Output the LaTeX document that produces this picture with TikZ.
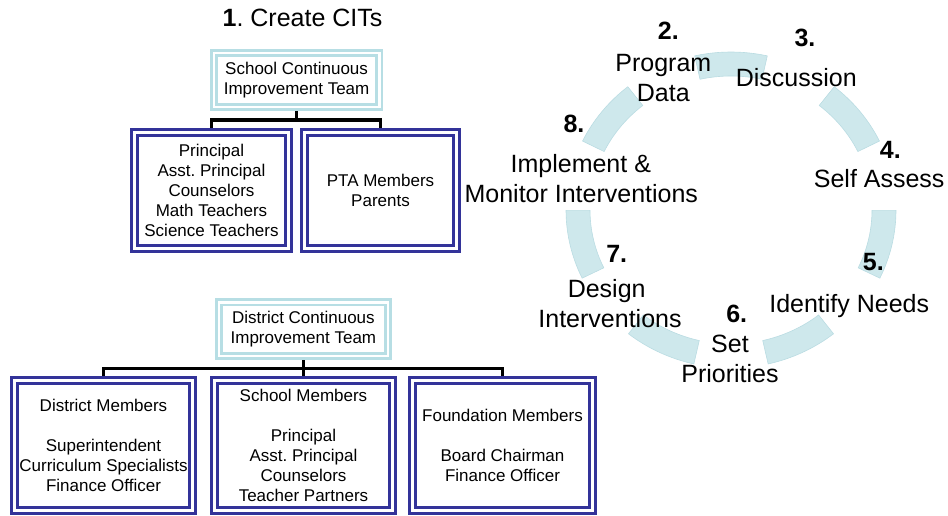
\documentclass[tikz,border=0pt]{standalone}
\usepackage{fontspec}
\setmainfont{Liberation Sans}
\frenchspacing
\definecolor{teamcyan}{RGB}{183,222,228}
\definecolor{memblue}{RGB}{51,51,153}
\definecolor{ringfill}{RGB}{206,232,236}
\definecolor{ringedge}{RGB}{186,220,226}
\newcommand{\smallfnt}{\fontsize{17}{20}\selectfont}
\newcommand{\bigfnt}{\fontsize{25}{30}\selectfont}
\begin{document}
\begin{tikzpicture}[x=1pt,y=-1pt,
  teambox/.style={draw=teamcyan, line width=2.7pt, double=white, double distance=2.5pt,
    outer sep=3.95pt, inner sep=0pt, align=center, font=\smallfnt},
  memberbox/.style={draw=memblue, line width=3.2pt, double=white, double distance=2.5pt,
    outer sep=4.45pt, inner sep=0pt, align=center, font=\smallfnt},
  conn/.style={draw=black, line width=3.5pt, line join=miter},
  ringseg/.style={fill=ringfill, draw=ringedge, line width=0.6pt},
  biglabel/.style={font=\bigfnt, anchor=base, inner sep=0pt},
  numlabel/.style={font=\bigfnt\bfseries, anchor=base, inner sep=0pt}]
\useasboundingbox (0,0) rectangle (948,516);

% ---------- school CIT ----------
\node[biglabel] (title) at (302.5,27) {\textbf{1}.\ Create CITs};
\node[teambox, minimum width=165.3pt, minimum height=53.7pt] (sct) at (296.6,80.1)
  {School Continuous\\Improvement Team};
\node[memberbox, minimum width=154.1pt, minimum height=116.1pt] (sm1) at (211.5,190.5)
  {Principal\\Asst.\ Principal\\Counselors\\Math Teachers\\Science Teachers};
\node[memberbox, minimum width=152.1pt, minimum height=116.1pt] (sm2) at (380.5,190.5)
  {PTA Members\\Parents};
\coordinate (sj) at (296.6,120);
\draw[conn] (sct.south) -- (sj);
\draw[conn] (sm1.north) |- (sj) -| (sm2.north);

% ---------- district CIT ----------
\node[teambox, minimum width=168.8pt, minimum height=53.8pt] (dct) at (303.4,329.2)
  {District Continuous\\Improvement Team};
\node[memberbox, minimum width=178.1pt, minimum height=130.1pt] (dm1) at (103.5,445.5)
  {District Members\\[20pt]Superintendent\\Curriculum Specialists\\Finance Officer};
\node[memberbox, minimum width=178.1pt, minimum height=130.1pt] (dm2) at (303.5,445.5)
  {School Members\\[20pt]Principal\\Asst.\ Principal\\Counselors\\Teacher Partners};
\node[memberbox, minimum width=180.1pt, minimum height=130.1pt] (dm3) at (502.5,445.5)
  {Foundation Members\\[20pt]Board Chairman\\Finance Officer};
\coordinate (dj) at (303.4,368.3);
\draw[conn] (dct.south) -- (dct.south |- dm2.north);
\draw[conn] (dm1.north) |- (dj) -| (dm3.north);

% ---------- cycle ring ----------
\begin{scope}[shift={(731,210)}]
\foreach \c in {0,...,6} {
  \pgfmathsetmacro\sa{90-\c*360/7-12.7}
  \pgfmathsetmacro\sb{90-\c*360/7+12.7}
  \filldraw[ringseg] (\sa:165pt and 158pt)
     arc[start angle=\sa, end angle=\sb, x radius=165pt, y radius=158pt]
     -- (\sb:141pt and 134pt)
     arc[start angle=\sb, end angle=\sa, x radius=141pt, y radius=134pt] -- cycle;
}
\end{scope}

% ---------- cycle labels ----------
\node[numlabel] (n2) at (668.3,40) {2.};
\node[biglabel] (l2a) at (663.3,72) {Program};
\node[biglabel] (l2b) at (663.3,102) {Data};
\node[numlabel] (n3) at (805,47) {3.};
\node[biglabel] (l3) at (796.3,87) {Discussion};
\node[numlabel] (n4) at (890.3,159) {4.};
\node[biglabel] (l4) at (879.2,187) {Self Assess};
\node[numlabel] (n5) at (873.3,270) {5.};
\node[biglabel] (l5) at (849.2,312) {Identify Needs};
\node[numlabel] (n6) at (736.7,322) {6.};
\node[biglabel] (l6a) at (730,352) {Set};
\node[biglabel] (l6b) at (730,382) {Priorities};
\node[numlabel] (n7) at (616.7,262) {7.};
\node[biglabel] (l7a) at (606.7,297) {Design};
\node[biglabel] (l7b) at (610,327) {Interventions};
\node[numlabel] (n8) at (574,133) {8.};
\node[biglabel] (l8a) at (580.8,172) {Implement \&};
\node[biglabel] (l8b) at (581.3,202) {Monitor Interventions};
\end{tikzpicture}
\end{document}
